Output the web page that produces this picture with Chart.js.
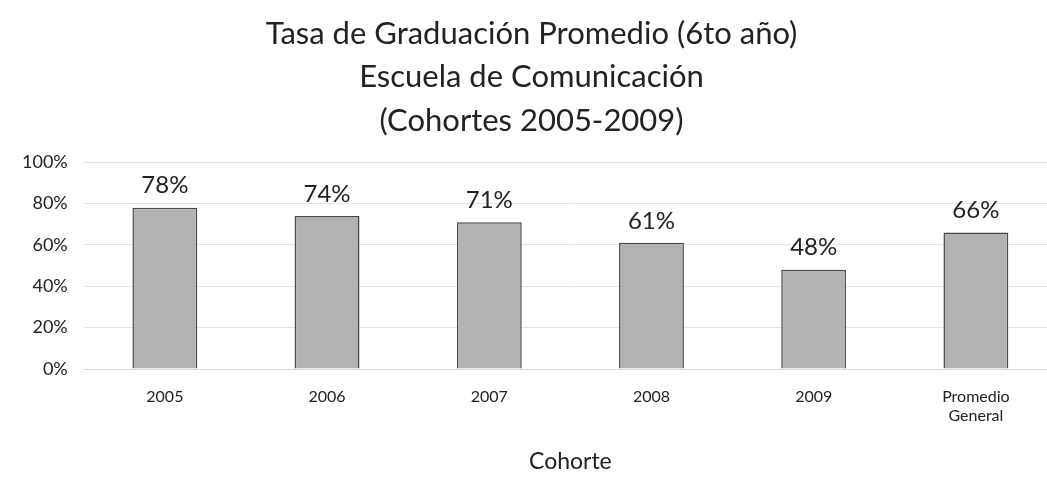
<!DOCTYPE html>
<html>
<head>
<meta charset="utf-8">
<script src="https://cdn.jsdelivr.net/npm/chart.js@4/dist/chart.umd.min.js"></script>
<style>
  html, body { margin: 0; padding: 0; background: #fff; overflow: hidden; }
  #wrap { width: 1047px; height: 483px; overflow: hidden; }
</style>
</head>
<body>
<div id="wrap"><canvas id="grad" width="1057" height="483"></canvas></div>
<script>
var cohortes = ["2005", "2006", "2007", "2008", "2009", ["Promedio", "General"]];
var tasas = [78, 74, 71, 61, 48, 66];
var yTicks = [0, 20, 40, 60, 80, 100];
var titulo = ["Tasa de Graduación Promedio (6to año)", "Escuela de Comunicación", "(Cohortes 2005-2009)"];

var fam = "Lato, 'Open Sans', sans-serif";

// etiquetas de porcentaje encima de cada barra
var etiquetas = {
  id: "etiquetas",
  afterDatasetsDraw: function(chart) {
    var ctx = chart.ctx;
    var meta = chart.getDatasetMeta(0);
    ctx.save();
    ctx.font = "24px " + fam;
    ctx.fillStyle = "#222";
    ctx.textAlign = "center";
    ctx.textBaseline = "bottom";
    meta.data.forEach(function(bar, i) {
      ctx.fillText(tasas[i] + "%", bar.x, bar.y - 10);
    });
    ctx.restore();
  }
};

new Chart(document.getElementById("grad"), {
  type: "bar",
  data: {
    labels: cohortes,
    datasets: [{
      data: tasas,
      backgroundColor: "#b2b2b2",
      borderColor: "#4a4a4a",
      borderWidth: 1.5,
      categoryPercentage: 1,
      barPercentage: 0.4
    }]
  },
  options: {
    responsive: false,
    animation: false,
    layout: { padding: { left: 6, right: 0, top: 0, bottom: 4 } },
    plugins: {
      legend: { display: false },
      tooltip: { enabled: false },
      title: {
        display: true,
        text: titulo,
        color: "#222",
        font: { family: fam, size: 31, weight: "normal", lineHeight: 1.4 },
        padding: { top: 12, bottom: 20 }
      }
    },
    scales: {
      x: {
        grid: { display: false },
        border: { color: "#d9d9d9" },
        ticks: { color: "#222", font: { family: fam, size: 16 }, padding: 10 },
        title: {
          display: true,
          text: "Cohorte",
          color: "#222",
          font: { family: fam, size: 23 },
          padding: { top: 12 }
        }
      },
      y: {
        min: 0,
        max: 100,
        afterBuildTicks: function(axis) {
          axis.ticks = yTicks.map(function(v) { return { value: v }; });
        },
        grid: { color: "#e3e3e3", drawTicks: false },
        border: { display: false },
        ticks: {
          color: "#222",
          font: { family: fam, size: 18 },
          padding: 16,
          callback: function(v) { return v + "%"; }
        }
      }
    }
  },
  plugins: [etiquetas]
});
</script>
</body>
</html>
